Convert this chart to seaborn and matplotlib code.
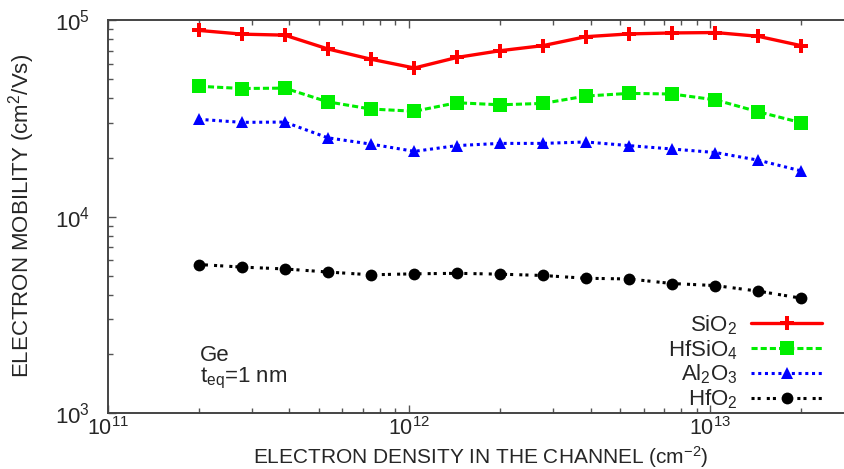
import numpy as np
import pandas as pd
import matplotlib
matplotlib.use("Agg")
import matplotlib.pyplot as plt
import seaborn as sns
from matplotlib.ticker import LogLocator, NullFormatter

# ── DATA ─────────────────────────────────────────────────────────────────────
density = [2.0e11, 2.78e11, 3.86e11, 5.36e11, 7.46e11, 1.04e12, 1.44e12, 2.0e12,
           2.78e12, 3.86e12, 5.36e12, 7.46e12, 1.04e13, 1.44e13, 2.0e13]

sio2   = [88700, 84900, 83900, 71400, 63300, 57100, 64600, 69900,
          74200, 82400, 85100, 86100, 86500, 82800, 74200]
hfsio4 = [46100, 44900, 45100, 38400, 35300, 34400, 38000, 37100,
          37700, 41100, 42400, 42100, 39300, 34200, 30100]
al2o3  = [31300, 30200, 30300, 25200, 23400, 21500, 23000, 23600,
          23600, 24000, 23000, 22100, 21200, 19400, 17100]
hfo2   = [5710, 5540, 5420, 5230, 5060, 5120, 5150, 5100,
          5020, 4860, 4820, 4570, 4460, 4180, 3850]

labels = ["SiO$_2$", "HfSiO$_4$", "Al$_2$O$_3$", "HfO$_2$"]

df = pd.DataFrame({
    "density": density * 4,
    "mobility": sio2 + hfsio4 + al2o3 + hfo2,
    "oxide": np.repeat(labels, len(density)),
})

# ── STYLE ────────────────────────────────────────────────────────────────────
sns.set_style("ticks")
plt.rcParams["font.family"] = ["Liberation Sans", "DejaVu Sans"]
plt.rcParams["mathtext.default"] = "regular"

styles = {
    "SiO$_2$":     dict(color="#ff0000", ls="-",               marker="P", ms=9.5, lw=2.4),
    "HfSiO$_4$":   dict(color="#00ee00", ls=(0, (2, 1)),       marker="s", ms=9.5, lw=2.2),
    "Al$_2$O$_3$": dict(color="#0000ff", ls=(0, (1, 1.2)),     marker="^", ms=9,   lw=2.2),
    "HfO$_2$":     dict(color="#000000", ls=(0, (1, 1, 1, 2)), marker="o", ms=8.5, lw=2.2),
}

fig = plt.figure(figsize=(8.45, 4.69), dpi=100)
ax = fig.add_axes([0.128, 0.119, 0.872, 0.838])
ax.set_xscale("log")
ax.set_yscale("log")

for name in labels:
    st = styles[name]
    sns.lineplot(
        data=df[df["oxide"] == name], x="density", y="mobility", ax=ax,
        color=st["color"], linestyle=st["ls"], marker=st["marker"],
        markersize=st["ms"], linewidth=st["lw"], markeredgewidth=0,
        label=name, estimator=None, sort=False,
    )

ax.set_xlim(1e11, 2.8e13)
ax.set_ylim(1e3, 1e5)

ax.xaxis.set_major_locator(LogLocator(base=10, numticks=10))
ax.xaxis.set_minor_locator(LogLocator(base=10, subs=np.arange(2, 10), numticks=20))
ax.yaxis.set_minor_locator(LogLocator(base=10, subs=np.arange(2, 10), numticks=20))
ax.xaxis.set_minor_formatter(NullFormatter())
ax.yaxis.set_minor_formatter(NullFormatter())

ax.tick_params(which="both", direction="in", top=True, right=False,
               color="#555555", labelsize=16)
ax.tick_params(axis="x", which="major", pad=3, labelsize=15.5)
ax.tick_params(axis="y", which="major", pad=13)
ax.tick_params(which="major", length=6, width=1)
ax.tick_params(which="minor", length=3.5, width=1)
for side in ["left", "bottom", "top"]:
    ax.spines[side].set_color("#444444")
    ax.spines[side].set_linewidth(1.4)
ax.spines["right"].set_visible(False)

# seaborn puts the column names on the axes; the titles go in figure coords instead
ax.set_xlabel("")
ax.set_ylabel("")
fig.text(0.569, 0.026, "ELECTRON DENSITY IN THE CHANNEL (cm$^{-2}$)",
         fontsize=15, ha="center", va="center")
fig.text(0.026, 0.54, "ELECTRON MOBILITY (cm$^2$/Vs)",
         fontsize=16, ha="center", va="center", rotation=90)

ax.text(0.125, 0.148, "Ge", transform=ax.transAxes, fontsize=16, va="center")
ax.text(0.125, 0.088, "t$_{eq}$=1 nm", transform=ax.transAxes, fontsize=16, va="center")

leg = ax.legend(loc="lower right", bbox_to_anchor=(0.99, -0.035), frameon=False,
                markerfirst=False, fontsize=16, handlelength=3.2,
                labelspacing=0.06, handletextpad=0.6, borderaxespad=0.3)

plt.savefig("out.png", dpi=100)
